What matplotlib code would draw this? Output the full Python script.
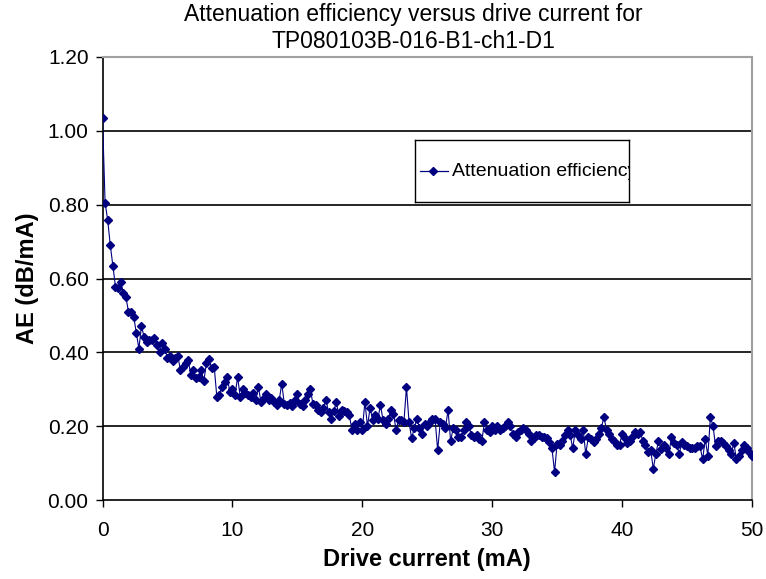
import matplotlib.pyplot as plt
import numpy as np

plt.rcParams['font.family'] = ['Liberation Sans', 'DejaVu Sans']

# drive current, 0.2 mA steps
current = np.round(np.arange(0, 50.01, 0.2), 1)

# attenuation efficiency (dB/mA)
ae = [
    1.035, 0.805, 0.758, 0.690, 0.634, 0.578, 0.575, 0.590, 0.560, 0.550,
    0.510, 0.510, 0.497, 0.453, 0.410, 0.471, 0.442, 0.429, 0.433, 0.433,
    0.438, 0.420, 0.402, 0.426, 0.410,
    0.384, 0.390, 0.377, 0.384, 0.390, 0.352, 0.361, 0.370, 0.379, 0.339,
    0.352, 0.330, 0.334, 0.352, 0.323, 0.370, 0.381, 0.357, 0.361, 0.280,
    0.284, 0.307, 0.320, 0.334, 0.293,
    0.300, 0.284, 0.333, 0.280, 0.300, 0.290, 0.285, 0.280, 0.290, 0.270,
    0.306, 0.265, 0.275, 0.288, 0.270, 0.275, 0.265, 0.256, 0.270, 0.315,
    0.260, 0.258, 0.262, 0.255, 0.270,
    0.288, 0.260, 0.255, 0.270, 0.288, 0.300, 0.260, 0.256, 0.245, 0.238,
    0.250, 0.272, 0.238, 0.220, 0.240, 0.265, 0.228, 0.243, 0.240, 0.238,
    0.230, 0.190, 0.207, 0.190, 0.210,
    0.190, 0.266, 0.200, 0.250, 0.216, 0.230, 0.220, 0.257, 0.216, 0.207,
    0.220, 0.243, 0.234, 0.190, 0.216, 0.216, 0.210, 0.306, 0.210, 0.167,
    0.195, 0.220, 0.195, 0.180, 0.207,
    0.200, 0.210, 0.220, 0.220, 0.135, 0.210, 0.207, 0.195, 0.243, 0.160,
    0.195, 0.190, 0.170, 0.170, 0.190, 0.210, 0.200, 0.175, 0.170, 0.175,
    0.165, 0.160, 0.210, 0.190, 0.185,
    0.200, 0.190, 0.200, 0.190, 0.195, 0.200, 0.210, 0.200, 0.180, 0.170,
    0.185, 0.190, 0.195, 0.190, 0.180, 0.160, 0.167, 0.176, 0.176, 0.170,
    0.170, 0.167, 0.158, 0.140, 0.076,
    0.153, 0.150, 0.160, 0.176, 0.190, 0.176, 0.140, 0.190, 0.176, 0.165,
    0.190, 0.125, 0.170, 0.165, 0.157, 0.165, 0.180, 0.195, 0.225, 0.190,
    0.180, 0.165, 0.160, 0.150, 0.149,
    0.180, 0.167, 0.155, 0.160, 0.170, 0.184, 0.180, 0.185, 0.160, 0.150,
    0.130, 0.135, 0.085, 0.125, 0.160, 0.137, 0.150, 0.140, 0.125, 0.170,
    0.155, 0.150, 0.125, 0.157, 0.150,
    0.145, 0.140, 0.140, 0.140, 0.145, 0.145, 0.110, 0.165, 0.120, 0.225,
    0.200, 0.145, 0.160, 0.160, 0.155, 0.145, 0.135, 0.125, 0.155, 0.110,
    0.120, 0.135, 0.150, 0.140, 0.130, 0.120,
]

y_ticks = [0.0, 0.2, 0.4, 0.6, 0.8, 1.0, 1.2]
x_ticks = [0, 10, 20, 30, 40, 50]
navy = '#000080'

W, H = 766, 579
fig = plt.figure(figsize=(W / 100, H / 100), dpi=100)
ax = fig.add_axes([102.5 / W, 1 - 500 / H, (752 - 102.5) / W, (500 - 57) / H])

# horizontal gridlines like Excel
for v in y_ticks[1:-1]:
    ax.axhline(v, color='black', lw=1.2, zorder=1)

ax.plot(current, ae, color=navy, lw=0.8, marker='D', markersize=4.4,
        markerfacecolor=navy, markeredgecolor=navy, zorder=3)

ax.set_xlim(0, 50)
ax.set_ylim(0, 1.2)
ax.set_xticks(x_ticks)
ax.set_yticks(y_ticks)
ax.set_yticklabels([f'{v:.2f}' for v in y_ticks])
ax.tick_params(direction='out', length=5, width=1, labelsize=15)
ax.tick_params(axis='x', pad=10)
ax.tick_params(axis='y', pad=5)
for s in ['left', 'bottom']:
    ax.spines[s].set_color('black')
    ax.spines[s].set_linewidth(1.2)
for s in ['top', 'right']:
    ax.spines[s].set_color('#a0a0a0')
    ax.spines[s].set_linewidth(1.5)

ax.set_xlabel('Drive current (mA)', fontsize=17, fontweight='bold', labelpad=6)
ax.set_ylabel('AE (dB/mA)', fontsize=17, fontweight='bold', labelpad=6)

fig.text(413 / W, 1 - 15 / H, 'Attenuation efficiency versus drive current for',
         ha='center', va='center', fontsize=16.5)
fig.text(413 / W, 1 - 41 / H, 'TP080103B-016-B1-ch1-D1',
         ha='center', va='center', fontsize=16.5)

# legend box (text is clipped at the frame, as in the original)
lax = fig.add_axes([415 / W, 1 - 202 / H, 214 / W, 62 / H])
lax.set_xlim(0, 214)
lax.set_ylim(0, 62)
lax.set_xticks([])
lax.set_yticks([])
for s in lax.spines.values():
    s.set_color('black')
    s.set_linewidth(1)
lax.plot([5, 33], [31, 31], color=navy, lw=0.9)
lax.plot([18], [31], color=navy, marker='D', markersize=4.4)
lax.text(37, 31, 'Attenuation efficiency', fontsize=14, va='center', ha='left',
         clip_on=True)

fig.savefig('out.png', dpi=100)
